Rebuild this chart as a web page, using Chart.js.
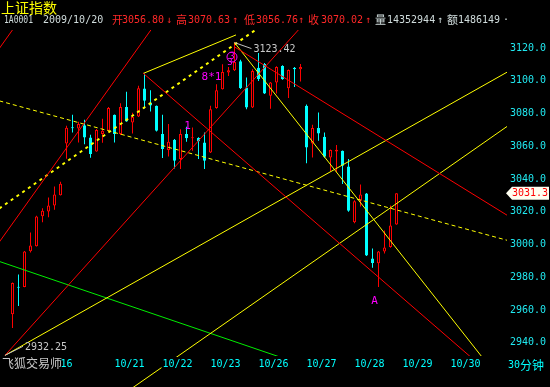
<!DOCTYPE html>
<html>
<head>
<meta charset="utf-8">
<script src="https://cdn.jsdelivr.net/npm/chart.js@4.4.1/dist/chart.umd.min.js"></script>
<style>
  html, body { margin: 0; padding: 0; background: #000; }
  canvas { display: block; }
</style>
</head>
<body>
<canvas id="myChart" width="550" height="387"></canvas>
<script>
// 30 minute bars, index 0 = last bar of 10/16
const open = [
  2957.3, 2974.2, 2974.0, 2995.9, 2999.0, 3017.3, 3020.1, 3023.8, 3030.1,
  3061.8, 3071.4, 3070.9, 3072.9, 3065.4, 3056.8, 3067.5, 3069.5,
  3079.3, 3067.5, 3084.1, 3074.6, 3078.2, 3095.4, 3086.8, 3084.8,
  3067.5, 3057.7, 3064.0, 3052.3, 3067.5, 3064.9, 3065.1, 3062.4,
  3056.3, 3083.4, 3094.9, 3105.1, 3106.5, 3112.0, 3095.9, 3083.7,
  3108.0, 3110.4, 3090.9, 3099.0, 3109.1, 3095.5, 3108.1, 3107.1,
  3084.8, 3061.8, 3071.2, 3065.9, 3053.2, 3056.9, 3057.3, 3047.6,
  3013.6, 3026.8, 3031.1, 2991.5, 2988.6, 2995.7, 2998.4, 3012.2,
];
const high = [
  2976.8, 2981.7, 2996.0, 3007.3, 3017.5, 3022.1, 3028.7, 3035.4, 3038.4,
  3072.6, 3079.3, 3075.0, 3076.2, 3067.1, 3070.63, 3076.8, 3084.0,
  3079.5, 3086.3, 3093.3, 3080.5, 3097.0, 3104.5, 3094.3, 3085.0,
  3079.3, 3073.6, 3064.5, 3070.5, 3071.9, 3071.5, 3065.5, 3068.5,
  3084.8, 3098.0, 3110.2, 3108.5, 3123.42, 3113.0, 3102.0, 3107.1,
  3117.0, 3111.0, 3099.3, 3109.0, 3109.5, 3107.0, 3108.5, 3110.4,
  3085.5, 3073.2, 3080.7, 3068.5, 3058.0, 3060.8, 3057.5, 3052.3,
  3027.0, 3036.6, 3031.5, 2997.6, 2996.0, 3008.5, 3023.8, 3031.3,
];
const low = [
  2949.0, 2962.4, 2973.8, 2995.1, 2998.8, 3013.6, 3016.6, 3021.3, 3029.9,
  3052.4, 3068.5, 3062.4, 3061.2, 3053.0, 3056.76, 3062.2, 3069.0,
  3062.4, 3067.0, 3075.0, 3067.9, 3078.0, 3083.1, 3081.3, 3069.0,
  3052.9, 3053.8, 3046.5, 3046.2, 3062.8, 3057.3, 3052.3, 3046.2,
  3056.0, 3083.0, 3094.7, 3103.0, 3106.0, 3095.0, 3082.7, 3083.5,
  3100.0, 3092.0, 3082.9, 3092.3, 3100.7, 3089.5, 3096.3, 3099.6,
  3049.6, 3053.2, 3063.4, 3053.0, 3044.7, 3044.1, 3037.0, 3020.0,
  3013.0, 3023.2, 2993.0, 2985.8, 2974.0, 2994.5, 2998.0, 3012.0,
];
const close = [
  2976.4, 2973.6, 2995.7, 2999.4, 3017.1, 3020.7, 3023.8, 3030.5, 3037.2,
  3071.3, 3071.0, 3073.6, 3065.4, 3055.3, 3070.02, 3069.5, 3083.5,
  3067.5, 3084.1, 3075.2, 3078.0, 3095.5, 3087.8, 3084.9, 3069.5,
  3058.4, 3062.8, 3051.2, 3067.5, 3064.9, 3065.3, 3063.1, 3051.2,
  3082.7, 3094.3, 3105.5, 3106.5, 3111.5, 3095.5, 3083.7, 3106.1,
  3101.2, 3092.3, 3099.0, 3108.5, 3101.0, 3106.7, 3107.1, 3108.5,
  3059.3, 3071.2, 3067.9, 3053.7, 3057.7, 3057.9, 3048.2, 3020.7,
  3026.4, 3030.5, 2993.3, 2988.7, 2995.7, 2998.2, 3011.6, 3031.3,
];

const dayTicks = [8, 17, 25, 33, 41, 49, 57, 65, 73];
const dayLabels = ["16", "10/21", "10/22", "10/23", "10/26", "10/27", "10/28", "10/29", "10/30"];
const priceTicks = [2940, 2960, 2980, 3000, 3020, 3040, 3060, 3080, 3100, 3120];
const lastPrice = 3031.3;
const topMark = [37, 3123.42];
const bottomMark = [-1.25, 2932.25];

// hand drawn trend lines, [bar index, price] end points
const redLines = [
  [[-3.08, 2997.0], [24.58, 3138.9]],
  [[-3.08, 3115.3], [1.25, 3137.6]],
  [[-1.25, 2932.25], [51.25, 3145.8]],
  [[37, 3120.8], [82.6, 3017.5]],
  [[21.75, 3104.8], [76.5, 2930.8]],
];
const yellowLines = [
  [[21.75, 3104.5], [37.25, 3128.1]],
  [[-1.25, 2932.25], [82.6, 3105.7]],
  [[37, 3123.42], [78.3, 2931.0]],
];
const yellowLowLine = [[19.0, 2909.8], [82.6, 3072.6]];
const yellowDashLines = [
  [[-2.2, 3087.8], [82.6, 3002.4]],
  [[-2.2, 3022.0], [41.7, 3134.2]],
];
const greenLine = [[-2.25, 2989.7], [44.5, 2931.3]];

// magenta marks on the chart: text, bar index, price
const marks = [
  ["8*1", 33.17, 3102.1],
  ["1", 29.17, 3072.4],
  ["A", 60.33, 2965.5],
];

const RED = "#ff0000";
const CYAN = "#00ffff";
const YELLOW = "#ffff00";
const MONO = '10px "DejaVu Sans Mono"';

const idx = open.map((v, i) => i);
const isUp = idx.map((i) => close[i] >= open[i]);

function lineSet(pts, color, extra) {
  return Object.assign({
    type: "line",
    data: pts.map((p) => ({ x: p[0], y: p[1] })),
    borderColor: color,
    borderWidth: 1,
    pointRadius: 0,
    fill: false,
    order: -1,
  }, extra || {});
}

const datasets = [
  {
    label: "body",
    data: idx.map((i) => ({ x: i, y: [open[i], close[i]] })),
    backgroundColor: isUp.map((u) => (u ? "#000" : CYAN)),
    borderColor: isUp.map((u) => (u ? RED : CYAN)),
    borderWidth: 1,
    borderSkipped: false,
    barThickness: 3,
    minBarLength: 1,
    inflateAmount: 0,
    grouped: false,
    order: 0,
  },
  {
    label: "wick",
    data: idx.map((i) => ({ x: i, y: [low[i], high[i]] })),
    backgroundColor: isUp.map((u) => (u ? RED : CYAN)),
    borderWidth: 0,
    barThickness: 1,
    inflateAmount: 0,
    grouped: false,
    order: 1,
  },
];
redLines.forEach((l) => datasets.push(lineSet(l, RED)));
yellowLines.forEach((l) => datasets.push(lineSet(l, YELLOW)));
datasets.push(lineSet(yellowLowLine, YELLOW, { clip: { left: 0, top: 0, right: 0, bottom: 31 } }));
datasets.push(lineSet(yellowDashLines[0], YELLOW, { borderDash: [4, 3] }));
datasets.push(lineSet(yellowDashLines[1], YELLOW, { borderDash: [3, 4], borderWidth: 2 }));
datasets.push(lineSet(greenLine, "#00ee00"));

// header pieces: left x, text, colour, optional width
const header = [
  [4, "1A0001", "w", 29], [43, "2009/10/20", "w"],
  [112, "开", "r"], [122, "3056.80", "r"], [166, "↓", "r"],
  [176, "高", "r"], [188, "3070.63", "r"], [232, "↑", "r"],
  [244, "低", "r"], [256, "3056.76", "r"], [298, "↑", "r"],
  [308, "收", "r"], [321, "3070.02", "r"], [365, "↑", "r"],
  [375, "量", "w"], [387, "14352944", "w"], [437, "↑", "w"],
  [447, "额", "w"], [458, "1486149", "w"], [503, "·", "w"],
];

function put(c, txt, x, y, color, font, maxW) {
  c.font = font;
  c.fillStyle = color;
  c.textAlign = "left";
  c.textBaseline = "middle";
  if (maxW) c.fillText(txt, x, y, maxW);
  else c.fillText(txt, x, y);
}

const overlay = {
  id: "overlay",
  beforeDraw(chart) {
    const c = chart.ctx;
    c.save();
    c.fillStyle = "#000";
    c.fillRect(0, 0, chart.width, chart.height);
    c.restore();
  },
  afterDraw(chart) {
    const c = chart.ctx;
    const xs = chart.scales.x;
    const ys = chart.scales.y;
    c.save();

    put(c, "上证指数", 1, 8, YELLOW, '14px "Noto Sans CJK SC"');
    header.forEach(([x, t, k, w]) => {
      const cjk = /[\u4e00-\u9fff]/.test(t);
      put(c, t, x, 20, k === "r" ? "#ff2828" : "#d0dcdc",
        cjk ? '11px "Noto Sans CJK SC"' : MONO, w);
    });

    // high / low labels with leader lines
    c.strokeStyle = "#c0c0c0";
    c.lineWidth = 1;
    let px = xs.getPixelForValue(topMark[0]);
    let py = ys.getPixelForValue(topMark[1]);
    c.beginPath();
    c.moveTo(px, py);
    c.lineTo(px + 17, py + 6);
    c.stroke();
    put(c, topMark[1].toFixed(2), px + 19, py + 7, "#c8c8c8", MONO);

    px = xs.getPixelForValue(bottomMark[0]);
    py = ys.getPixelForValue(bottomMark[1]);
    c.beginPath();
    c.moveTo(px, py);
    c.lineTo(px + 18, py - 9);
    c.stroke();
    put(c, bottomMark[1].toFixed(2), px + 20, py - 8, "#c8c8c8", MONO);

    marks.forEach(([t, i, p]) => {
      c.textAlign = "center";
      c.font = '11px "DejaVu Sans Mono"';
      c.fillStyle = "#ff00ff";
      c.textBaseline = "middle";
      c.fillText(t, xs.getPixelForValue(i), ys.getPixelForValue(p));
    });
    // circled 3 near the top
    const cx = xs.getPixelForValue(36.58);
    const cy = ys.getPixelForValue(3114.6);
    c.strokeStyle = "#ff00ff";
    c.beginPath();
    c.arc(cx, cy, 5, 0, Math.PI * 2);
    c.stroke();
    c.textAlign = "center";
    c.font = '9px "DejaVu Sans Mono"';
    c.fillText("3", cx, cy);
    c.fillText("3", cx - 2, cy + 6);

    // bottom texts
    c.fillStyle = "#000";
    c.fillRect(0, 357, 60, 13);
    put(c, "飞狐交易师", 2, 363, "#c8c8c8", '12px "Noto Sans CJK SC"');
    put(c, "30", 508, 365, CYAN, MONO);
    put(c, "分钟", 520, 365, CYAN, '12px "Noto Sans CJK SC"');

    // last price tag
    const ty = ys.getPixelForValue(lastPrice);
    c.fillStyle = "#fffff0";
    c.beginPath();
    c.moveTo(506, ty);
    c.lineTo(512, ty - 6.5);
    c.lineTo(549, ty - 6.5);
    c.lineTo(549, ty + 6.5);
    c.lineTo(512, ty + 6.5);
    c.closePath();
    c.fill();
    put(c, lastPrice.toFixed(1), 512, ty + 0.5, "#ff0000", MONO);
    c.restore();
  },
};

new Chart(document.getElementById("myChart"), {
  type: "bar",
  data: { datasets: datasets },
  options: {
    responsive: false,
    animation: false,
    devicePixelRatio: 1,
    layout: { padding: { top: 30, left: 0, right: 0, bottom: 0 } },
    plugins: {
      legend: { display: false },
      tooltip: { enabled: false },
    },
    scales: {
      x: {
        type: "linear",
        min: -2.0833,
        max: 82.4167,
        offset: false,
        grid: { display: false, drawTicks: false },
        border: { display: false },
        afterFit: (s) => { s.height = 31; },
        afterBuildTicks: (s) => { s.ticks = dayTicks.map((v) => ({ value: v })); },
        ticks: {
          autoSkip: false,
          maxRotation: 0,
          align: "start",
          padding: 2,
          color: CYAN,
          font: { family: "DejaVu Sans Mono", size: 10 },
          callback: (value, index) => dayLabels[index],
          z: 1,
          showLabelBackdrop: true,
          backdropColor: "#000",
          backdropPadding: 1,
        },
      },
      y: {
        type: "linear",
        position: "right",
        min: 2931.84,
        max: 3131.11,
        grid: { display: false, drawTicks: false },
        border: { display: false },
        afterFit: (s) => { s.width = 43; },
        afterBuildTicks: (s) => { s.ticks = priceTicks.map((v) => ({ value: v })); },
        ticks: {
          padding: 3,
          crossAlign: "near",
          color: "#20e8f0",
          font: { family: "DejaVu Sans Mono", size: 10 },
          callback: (value) => value.toFixed(1),
        },
      },
    },
  },
  plugins: [overlay],
});
</script>
</body>
</html>
